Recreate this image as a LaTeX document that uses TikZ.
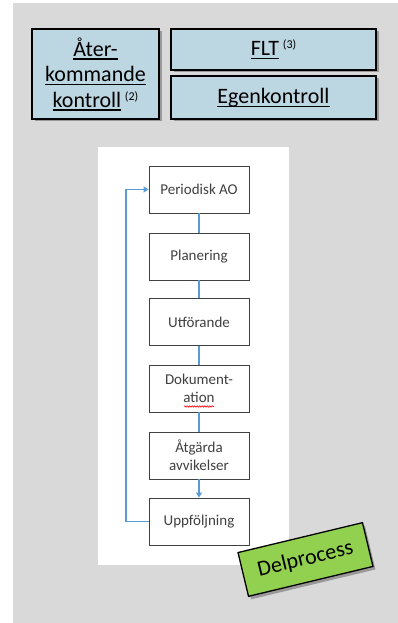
\documentclass[tikz,border=0pt]{standalone}
\usepackage{fontspec}
\setmainfont{Carlito}
\usetikzlibrary{shadows,arrows.meta,decorations.pathmorphing}
\definecolor{panelgrey}{RGB}{217,217,217}
\definecolor{boxblue}{RGB}{189,215,226}
\definecolor{linkblue}{RGB}{91,155,213}
\definecolor{delgreen}{RGB}{146,208,80}
\definecolor{flowtext}{RGB}{64,64,64}
\newsavebox{\ulbox}
\newcommand{\ulword}[1]{\sbox{\ulbox}{#1}\leavevmode\rlap{\rule[-3.5pt]{\wd\ulbox}{1.1pt}}\usebox{\ulbox}}
\newcommand{\supnote}[1]{{\fontsize{12}{12}\selectfont\raisebox{7pt}{#1}}}
\tikzset{
  bluebox/.style={draw=black, line width=1.3pt, fill=boxblue, inner sep=0pt,
    drop shadow={shadow xshift=2.5pt, shadow yshift=-2.5pt, opacity=0.45, fill=black!70},
    font=\fontsize{22}{25.5}\selectfont, align=center},
  flowbox/.style={draw=flowtext, line width=0.9pt, fill=white, minimum width=100pt,
    minimum height=47pt, inner sep=0pt, text=flowtext,
    font=\fontsize{15}{18}\selectfont, align=center},
  link/.style={draw=linkblue, line width=1.1pt},
  linkarrow/.style={link, -{Triangle[length=5pt,width=6pt]}}
}
\begin{document}
\begin{tikzpicture}[x=1pt,y=1pt]
\useasboundingbox (0,0) rectangle (398,623);
% panels
\fill[panelgrey] (13,0) rectangle (398,620);
\fill[white] (98,58) rectangle (289,476);
% top blue boxes
\node[bluebox, minimum width=127pt, minimum height=90pt] (ater) at (95.5,549)
  {\ulword{Åter-}\\\ulword{kommande}\\\ulword{kontroll}\,\supnote{(2)}};
\node[bluebox, minimum width=205pt, minimum height=41pt] (flt) at (273.5,573.5)
  {\ulword{FLT}\,\supnote{(3)}};
\node[bluebox, minimum width=205pt, minimum height=43pt] (egen) at (273.5,525.5)
  {\ulword{Egenkontroll}};
% flow
\node[flowbox] (p1) at (199,433.5) {Periodisk AO};
\node[flowbox] (p2) at (199,366.5) {Planering};
\node[flowbox] (p3) at (199,301) {Utförande};
\node[flowbox] (p4) at (199,234.5) {Dokument-\\ation};
\node[flowbox] (p5) at (199,167.5) {Åtgärda\\avvikelser};
\node[flowbox] (p6) at (199,101.5) {Uppföljning};
\draw[link] (p1) -- (p2);
\draw[link] (p2) -- (p3);
\draw[link] (p3) -- (p4);
\draw[link] (p4) -- (p5);
\draw[linkarrow] (p5) -- (p6);
\coordinate (lb) at (126,101.5);
\coordinate (lt) at (126,433.5);
\draw[linkarrow] (p6.west) -- (lb) -- (lt) -- (p1.west);
% spell-check squiggle
\draw[red, line width=0.6pt, decorate, decoration={snake, segment length=2.5pt, amplitude=0.7pt}]
  (184,216.5) -- (214,216.5);
% Delprocess label
\node[draw=black, line width=1.3pt, fill=delgreen, minimum width=128pt, minimum height=45pt,
  inner sep=0pt, rotate=13.5, font=\fontsize{22}{24}\selectfont,
  drop shadow={shadow xshift=2.5pt, shadow yshift=-3pt, opacity=0.45, fill=black!70}]
  (del) at (305.5,63.5) {Delprocess};
\end{tikzpicture}
\end{document}
